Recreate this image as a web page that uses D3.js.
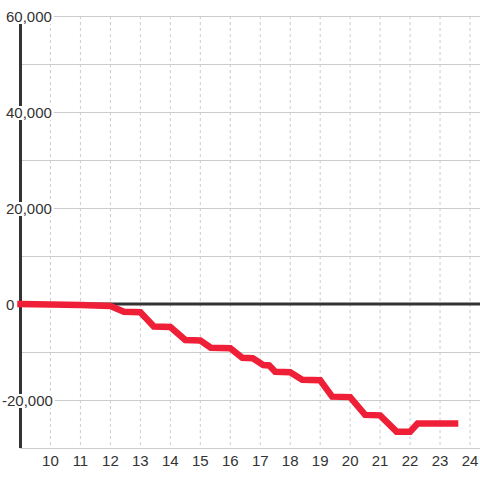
<!DOCTYPE html>
<html>
<head>
<meta charset="utf-8">
<script src="https://cdn.jsdelivr.net/npm/d3@7"></script>
<style>
  body { margin: 0; background: #fff; }
  text { font-family: Arial, "Liberation Sans", sans-serif; fill: #333; }
</style>
</head>
<body>
<div id="chart"></div>
<script>

// hours of the day on x, running total on y
var hours  = [9, 10, 11, 12, 12.45, 13, 13.45, 14, 14.5, 15, 15.35, 16, 16.4, 16.75, 17.1, 17.3, 17.5, 18, 18.4, 19, 19.4, 20, 20.5, 21, 21.55, 22, 22.25, 23.5];
var totals = [0, -100, -200, -400, -1600, -1700, -4700, -4800, -7500, -7600, -9100, -9200, -11200, -11300, -12700, -12800, -14100, -14200, -15800, -15900, -19300, -19400, -23100, -23200, -26600, -26600, -24900, -24900];

var xTicks     = [10, 11, 12, 13, 14, 15, 16, 17, 18, 19, 20, 21, 22, 23, 24];
var yGrid      = [60000, 50000, 40000, 30000, 20000, 10000, 0, -10000, -20000, -30000];
var yLabels    = [60000, 40000, 20000, 0, -20000];

var width  = 480,
    height = 480;

var x = d3.scaleLinear().domain([9, 24.333]).range([20.5, 480]);
var y = d3.scaleLinear().domain([-30000, 60000]).range([448, 16]);

var svg = d3.select("#chart")
  .append("svg")
    .attr("width", width)
    .attr("height", height);

// horizontal grid
svg.append("g")
  .attr("class", "y-grid")
  .selectAll("line")
  .data(yGrid)
  .enter()
  .append("line")
    .attr("x1", 20)
    .attr("x2", width)
    .attr("y1", function(d){ return Math.round(y(d)) + 0.5; })
    .attr("y2", function(d){ return Math.round(y(d)) + 0.5; })
    .attr("stroke", "#ccc")
    .attr("stroke-width", 1);

// vertical dashed grid
svg.append("g")
  .attr("class", "x-grid")
  .selectAll("line")
  .data(xTicks)
  .enter()
  .append("line")
    .attr("x1", function(d){ return x(d); })
    .attr("x2", function(d){ return x(d); })
    .attr("y1", y(60000))
    .attr("y2", y(-30000))
    .attr("stroke", "#ccc")
    .attr("stroke-width", 1)
    .attr("stroke-dasharray", "3,3");

// y axis line
svg.append("line")
  .attr("x1", x(9))
  .attr("x2", x(9))
  .attr("y1", y(60000))
  .attr("y2", y(-30000))
  .attr("stroke", "#333")
  .attr("stroke-width", 3);

// zero line
svg.append("line")
  .attr("x1", 20)
  .attr("x2", width)
  .attr("y1", y(0))
  .attr("y2", y(0))
  .attr("stroke", "#333")
  .attr("stroke-width", 3);

// y labels with white boxes over the axis
var fmt = d3.format(",");
var yLab = svg.append("g")
  .attr("class", "y-labels")
  .selectAll("g")
  .data(yLabels)
  .enter()
  .append("g");

yLab.append("text")
  .attr("x", function(d){ return d < 0 ? 2 : 6; })
  .attr("y", function(d){ return y(d) + 5.5; })
  .style("font-size", "15px")
  .text(function(d){ return fmt(d).replace("\u2212", "-"); });

yLab.insert("rect", "text")
  .each(function(d){
    var bb = this.parentNode.querySelector("text").getBBox();
    d3.select(this)
      .attr("x", bb.x - 1)
      .attr("y", y(d) - 6)
      .attr("width", bb.width + 3)
      .attr("height", 14)
      .attr("fill", "#fff");
  });

// x labels
svg.append("g")
  .attr("class", "x-labels")
  .selectAll("text")
  .data(xTicks)
  .enter()
  .append("text")
    .attr("x", function(d){ return x(d); })
    .attr("y", 466)
    .attr("text-anchor", "middle")
    .style("font-size", "15px")
    .text(function(d){ return d; });

// the series
var line = d3.line()
  .x(function(d){ return x(d[0]); })
  .y(function(d){ return y(d[1]); });

svg.append("path")
  .datum(d3.zip(hours, totals))
  .attr("d", line)
  .attr("fill", "none")
  .attr("stroke", "#ee1f36")
  .attr("stroke-width", 6.5)
  .attr("stroke-linecap", "square");

</script>
</body>
</html>
